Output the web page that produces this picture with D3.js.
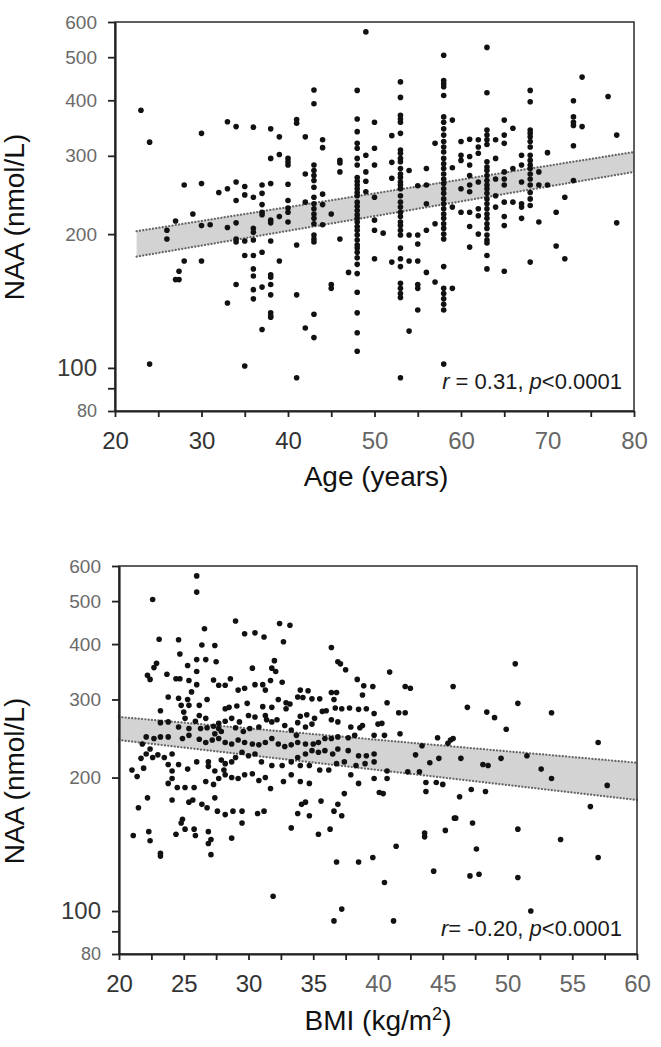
<!DOCTYPE html>
<html><head><meta charset="utf-8">
<script src="https://cdn.jsdelivr.net/npm/d3@7"></script>
<style>
body{margin:0;background:#fff}
svg{display:block}
text{font-family:"Liberation Sans",Arial,Helvetica,sans-serif}
</style>
</head><body><svg id="c" width="661" height="1047"></svg>
<script>
// ---------- DATA ----------
const agePoints = [
[23,380],[24,322],[24,102],[26,204],[26,195],[27,214],[27,158],[27.4,158],[27.4,165],[28,258],[28,174],[29,222],
[30,337],[30,260],[30,209],[30,174],[31,210],[32,248],[33,358],[33,253],[33,207],[33,140],
[34,349],[34,262],[34,238],[34,212],[34,195],[34,192],[34,154],
[35,256],[35,245],[35,193],[35,179],[35,101],
[36,348],[36,242],[36,206],[36,202],[36,194],[36,179],[36,167],[36,161],[36,150],[36,143],
[37,258],[37,247],[37,233],[37,224],[37,221],[37,182],[37,152],[37,122],
[38,345],[38,296],[38,260],[38,215],[38,212],[38,193],[38,162],[38,160],[38,154],[38,146],[38,133],[38,131],[38,130],
[39,331],[39,302],[39,219],[39,174],
[40,296],[40,291],[40,286],[40,259],[40,238],[40,229],[40,224],[40,213],
[41,362],[41,355],[41,189],[41,146],[41,95],
[42,331],[42,273],[42,236],[42,123],
[43,422],[43,393],[43,286],[43,278],[43,271],[43,264],[43,255],[43,242],[43,234],[43,228],[43,222],[43,217],[43,211],[43,199],[43,195],[43,192],[43,132],[43,117],
[44,326],[44,313],[44,246],[44,233],[44,210],
[45,222],[45,154],[45,151],
[46,293],[46,289],[46,276],[46,195],[47,164],
[48,421],[48,363],[48,340],[48,320],[48,312],[48,296],[48,286],[48,268],[48,263],[48,258],[48,253],[48,248],[48,244],[48,236],[48,231],[48,226],[48,221],[48,217],[48,213],[48,208],[48,204],[48,199],[48,194],[48,189],[48,186],[48,182],[48,177],[48,171],[48,163],[48,148],[48,133],[48,120],[48,109],
[49,570],[49,301],[49,276],[49,263],[49,249],
[50,357],[50,312],[50,286],[50,242],[50,215],[50,204],[50,176],
[51,201],[52,333],[52,290],[52,267],[52,173],
[53,440],[53,406],[53,370],[53,363],[53,357],[53,337],[53,309],[53,304],[53,296],[53,291],[53,281],[53,273],[53,268],[53,262],[53,258],[53,253],[53,244],[53,236],[53,230],[53,224],[53,219],[53,213],[53,209],[53,204],[53,199],[53,186],[53,176],[53,169],[53,155],[53,151],[53,147],[53,144],[53,95],
[54,278],[54,199],[54,174],[54,121],
[55,257],[55,199],[55,190],[55,174],[55,154],[55,151],[55,135],
[56,281],[56,258],[56,234],[56,204],[56,164],
[57,320],[57,211],[57,156],
[58,505],[58,443],[58,436],[58,429],[58,410],[58,367],[58,357],[58,345],[58,334],[58,323],[58,314],[58,306],[58,296],[58,288],[58,281],[58,273],[58,266],[58,260],[58,253],[58,247],[58,240],[58,234],[58,228],[58,222],[58,217],[58,211],[58,206],[58,200],[58,195],[58,169],[58,151],[58,147],[58,143],[58,139],[58,135],[58,102],
[59,361],[59,282],[59,230],[59,151],
[60,323],[60,301],[60,293],[60,253],[60,224],
[61,327],[61,299],[61,286],[61,271],[61,258],[61,249],[61,224],[61,208],[61,187],
[62,326],[62,314],[62,304],[62,262],[62,228],[62,220],[62,200],
[63,526],[63,416],[63,343],[63,334],[63,326],[63,318],[63,291],[63,283],[63,278],[63,271],[63,264],[63,258],[63,253],[63,247],[63,240],[63,234],[63,228],[63,222],[63,217],[63,211],[63,206],[63,199],[63,194],[63,191],[63,179],[63,167],
[64,326],[64,296],[64,266],[64,244],[64,230],
[65,361],[65,334],[65,320],[65,276],[65,266],[65,258],[65,236],[65,219],[65,209],[65,165],
[66,346],[66,281],[66,236],
[67,301],[67,286],[67,262],[67,234],[67,230],[67,217],
[68,421],[68,397],[68,343],[68,337],[68,331],[68,323],[68,314],[68,301],[68,293],[68,286],[68,281],[68,273],[68,266],[68,258],[68,248],[68,240],[68,232],[68,173],
[69,276],[69,258],[69,213],[70,305],[70,258],[71,224],[71,188],[72,242],[72,176],
[73,399],[73,367],[73,357],[73,351],[73,316],[73,264],
[74,451],[74,349],[77,408],[78,334],[78,212]
];

const bmiPoints = [
[26.0,570],[26.0,524],[22.6,504],[29.0,451],[32.4,445],[33.2,441],[26.6,433],[23.1,410],[24.6,409],[29.7,422],[30.5,424],[31.2,415],[32.7,405],[26.4,398],[27.4,397],[36.4,393],[24.7,380],[26.0,369],[26.7,369],[27.5,365],[25.3,358],[22.9,362],[22.7,354],[30.3,353],[36.9,365],[37.1,361],[37.5,350],[32.0,367],[31.8,353],[32.1,347],[26.0,347],[22.2,340],[22.4,333],[23.7,342],[24.4,334],[24.7,334],[25.4,331],[26.0,324],[27.3,332],[27.7,323],[28.2,323],[28.6,334],[29.2,315],[29.7,318],[30.5,324],[31.1,324],[31.7,331],[31.3,315],[32.6,328],[38.4,333],[38.9,322],[39.6,321],[34.0,315],[34.6,314],[33.8,304],[34.2,303],[34.9,301],[35.5,301],[36.4,311],[36.8,311],[38.8,307],[23.8,304],[23.2,283],[24.6,302],[25.3,300],[25.6,312],[26.8,300],[24.8,291],[25.4,291],[26.2,291],[28.5,288],[28.2,286],[29.1,290],[29.9,294],[31.1,289],[31.8,288],[32.3,300],[32.9,295],[33.2,293],[32.9,286],[36.6,300],[36.7,287],[37.2,286],[37.8,287],[38.5,285],[39.1,286],[39.7,279],[40.0,264],[35.7,282],[36.0,283],[35.1,272],[34.5,277],[34.0,275],[34.9,264],[34.4,260],[33.8,266],[32.8,262],[33.3,256],[33.7,249],[25.0,281],[25.1,272],[26.2,276],[25.9,268],[23.8,267],[23.2,266],[26.7,272],[27.7,265],[28.2,268],[28.7,272],[29.3,267],[30.0,276],[30.5,274],[31.3,276],[31.4,270],[31.8,267],[32.2,270],[27.7,258],[27.9,254],[27.4,251],[24.6,260],[25.4,258],[26.3,258],[26.8,259],[27.3,261],[29.0,259],[29.6,254],[30.1,258],[30.8,260],[36.4,270],[36.9,267],[37.9,260],[38.6,259],[38.8,262],[39.7,249],[38.2,249],[37.7,246],[36.9,247],[36.4,245],[35.9,245],[35.4,240],[35.0,238],[34.4,238],[33.8,240],[33.3,237],[32.8,235],[32.3,238],[31.8,245],[31.3,240],[30.8,237],[30.3,238],[29.7,240],[29.2,243],[28.7,238],[28.2,240],[27.7,245],[27.2,243],[26.7,240],[26.2,244],[25.4,249],[24.9,245],[23.8,247],[23.2,247],[22.7,245],[22.1,247],[21.8,238],[22.4,232],[22.1,226],[22.6,222],[23.0,225],[23.5,222],[24.1,226],[21.7,221],[21.9,210],[21.0,208],[21.4,201],[23.8,214],[24.6,214],[25.3,209],[26.0,217],[26.9,217],[26.9,212],[27.4,207],[27.9,219],[28.2,215],[28.1,208],[28.7,217],[29.0,222],[29.5,228],[30.0,224],[30.5,226],[31.0,217],[31.8,213],[32.6,213],[33.3,217],[33.8,222],[34.4,226],[34.9,230],[35.4,228],[35.9,230],[36.5,226],[36.9,232],[37.7,230],[38.5,224],[39.1,224],[39.7,226],[39.7,217],[39.0,215],[38.3,213],[37.4,217],[36.8,215],[36.2,208],[35.5,208],[34.7,213],[34.0,213],[24.1,207],[24.1,199],[23.8,194],[24.5,190],[25.1,190],[25.8,190],[26.7,196],[27.3,193],[27.7,199],[28.2,203],[28.7,200],[29.2,199],[29.7,203],[30.3,204],[30.8,197],[31.3,200],[31.7,189],[32.7,196],[33.3,203],[34.0,196],[34.7,194],[37.9,203],[38.5,194],[39.7,199],[40.1,185],[35.6,177],[34.4,176],[34.1,174],[34.7,164],[33.8,166],[33.3,154],[35.4,149],[36.3,153],[36.6,168],[36.9,174],[37.2,164],[37.4,184],[22.2,180],[21.5,171],[24.1,178],[25.4,176],[25.7,178],[26.4,174],[26.8,171],[27.4,180],[27.6,168],[28.2,165],[28.8,168],[29.5,168],[29.5,158],[30.7,166],[31.2,168],[24.9,161],[24.8,158],[24.4,149],[25.1,153],[25.8,153],[25.9,148],[26.9,151],[27.1,145],[26.9,142],[27.1,134],[28.7,146],[21.1,148],[22.3,151],[22.4,144],[23.2,135],[23.2,133],[36.8,129],[38.5,129],[39.6,132],[31.9,108],[37.2,101],[36.6,95],
[50.6,361],[40.9,346],[42.1,321],[42.5,318],[45.8,321],[50.8,294],[46.9,288],[41.6,280],[42.1,280],[48.4,281],[49.0,273],[53.4,280],[40.7,295],[40.3,265],[49.9,257],[41.7,251],[40.5,249],[44.6,246],[45.8,245],[45.6,243],[45.4,239],[43.4,236],[42.9,225],[46.4,221],[44.7,221],[49.5,221],[51.5,224],[57.0,240],[44.0,216],[48.1,214],[48.5,213],[52.6,209],[40.7,207],[42.3,206],[43.2,206],[40.7,199],[53.4,199],[43.7,195],[44.5,195],[45.0,193],[57.7,192],[43.7,186],[40.4,184],[46.3,181],[47.2,188],[48.3,186],[56.4,172],[45.9,162],[46.0,162],[47.3,158],[50.8,153],[45.2,152],[43.6,150],[43.6,147],[41.4,140],[54.1,145],[47.6,138],[57.0,132],[44.3,123],[47.1,120],[47.8,121],[50.8,119],[40.5,116],[51.8,100],[41.2,95]
];

const naaDomain = [80, 600];
const naaTicks = [600, 500, 400, 300, 200, 100, 80];
const naaMinorTicks = [90];
const ageDomain = [20, 80];
const ageTicks = [20, 30, 40, 50, 60, 70, 80];
const ageMinorTicks = [25, 35, 45, 55, 65, 75];
const bmiDomain = [20, 60];
const bmiTicks = [20, 25, 30, 35, 40, 45, 50, 55, 60];
const bmiMinorTicks = [22.5, 27.5, 32.5, 37.5, 42.5, 47.5, 52.5, 57.5];

// 95% confidence band of regression line (ends)
const ageBandX = [22.5, 80];
const ageBandLo = [178, 276];
const ageBandHi = [203, 306];
const bmiBandX = [20, 60];
const bmiBandLo = [243, 178];
const bmiBandHi = [274, 216];

const yTitle = "NAA (nmol/L)";

// ---------- DRAW ----------
const svg = d3.select("#c");

function panel(o) {
  const x = d3.scaleLinear().domain(o.xDomain).range([o.left, o.right]);
  const y = d3.scaleLog().domain(naaDomain).range([o.bottom, o.top]);
  const g = svg.append("g");

  // band
  const band = o.bandX.map((d, i) => ({x: d, lo: o.bandLo[i], hi: o.bandHi[i]}));
  g.append("path").datum(band)
    .attr("d", d3.area().x(d => x(d.x)).y0(d => y(d.lo)).y1(d => y(d.hi)))
    .attr("fill", "#d3d3d3");
  ["lo", "hi"].forEach(k => {
    g.append("path").datum(band)
      .attr("d", d3.line().x(d => x(d.x)).y(d => y(d[k])))
      .attr("fill", "none").attr("stroke", "#666")
      .attr("stroke-width", 2.2).attr("stroke-dasharray", "0.1,3.2")
      .attr("stroke-linecap", "round");
  });

  // points
  g.append("g").selectAll("circle").data(o.points).join("circle")
    .attr("cx", d => x(d[0])).attr("cy", d => y(d[1]))
    .attr("r", 2.8).attr("fill", "#111");

  // frame
  g.append("rect").attr("x", o.left).attr("y", o.top)
    .attr("width", o.right - o.left).attr("height", o.bottom - o.top)
    .attr("fill", "none").attr("stroke", "#2a2a2a").attr("stroke-width", 1.5);

  // y axis
  const ya = g.append("g").attr("transform", `translate(${o.left},0)`)
    .call(d3.axisLeft(y).tickValues(naaTicks.concat(naaMinorTicks)).tickSize(7).tickSizeOuter(0)
      .tickFormat(d => naaTicks.includes(d) ? d3.format("d")(d) : ""));
  ya.select(".domain").attr("stroke", "#222").attr("stroke-width", 2.2);
  ya.selectAll(".tick line").attr("stroke", "#222").attr("stroke-width", 1.8);
  ya.selectAll(".tick text")
    .attr("x", -18)
    .style("font-size", d => d === 100 ? "24px" : (d === 80 ? "18px" : "19px"))
    .attr("fill", d => d === 100 ? "#3a3a3a" : "#6a6a6a");

  // x axis
  const xa = g.append("g").attr("transform", `translate(0,${o.bottom})`)
    .call(d3.axisBottom(x).tickValues(o.xTicks.concat(o.xMinor)).tickSize(6).tickSizeOuter(0)
      .tickFormat(d => o.xTicks.includes(d) ? d3.format("d")(d) : ""));
  xa.select(".domain").attr("stroke", "#222").attr("stroke-width", 2.2);
  xa.selectAll(".tick line").attr("stroke", "#222").attr("stroke-width", 1.8);
  xa.selectAll(".tick text")
    .attr("y", 38).attr("dy", 0)
    .style("font-size", "24px")
    .attr("fill", d => d <= o.darkUpTo ? "#333" : "#666");

  // axis titles
  g.append("text").attr("transform", `translate(${o.yTitleX},${o.yTitleY}) rotate(-90)`)
    .attr("text-anchor", "middle").style("font-size", "28px").attr("fill", "#111")
    .text(yTitle);
  const xt = g.append("text").attr("x", o.xTitleX).attr("y", o.xTitleY)
    .attr("text-anchor", "middle").style("font-size", "28px").attr("fill", "#111");
  o.xTitle(xt);

  // annotation
  const an = g.append("text").attr("x", o.annX).attr("y", o.annY)
    .attr("text-anchor", "end").style("font-size", "22px").attr("fill", "#1a1a1a");
  an.append("tspan").style("font-style", "italic").text("r");
  an.append("tspan").text(o.annR);
  an.append("tspan").style("font-style", "italic").text("p");
  an.append("tspan").text("<0.0001");
}

panel({
  left: 115, right: 634, top: 22, bottom: 411,
  xDomain: ageDomain, xTicks: ageTicks, xMinor: ageMinorTicks, darkUpTo: 40,
  points: agePoints, bandX: ageBandX, bandLo: ageBandLo, bandHi: ageBandHi,
  yTitleX: 24, yTitleY: 217,
  xTitleX: 376, xTitleY: 486,
  xTitle: t => t.text("Age (years)"),
  annX: 622, annY: 389, annR: " = 0.31, "
});

panel({
  left: 119, right: 637, top: 566, bottom: 954,
  xDomain: bmiDomain, xTicks: bmiTicks, xMinor: bmiMinorTicks, darkUpTo: 35,
  points: bmiPoints, bandX: bmiBandX, bandLo: bmiBandLo, bandHi: bmiBandHi,
  yTitleX: 24, yTitleY: 781,
  xTitleX: 378, xTitleY: 1030,
  xTitle: t => {
    t.append("tspan").text("BMI (kg/m");
    t.append("tspan").attr("dy", -10).style("font-size", "18px").text("2");
    t.append("tspan").attr("dy", 10).text(")");
  },
  annX: 622, annY: 936, annR: "= -0.20, "
});
</script>
</body></html>
